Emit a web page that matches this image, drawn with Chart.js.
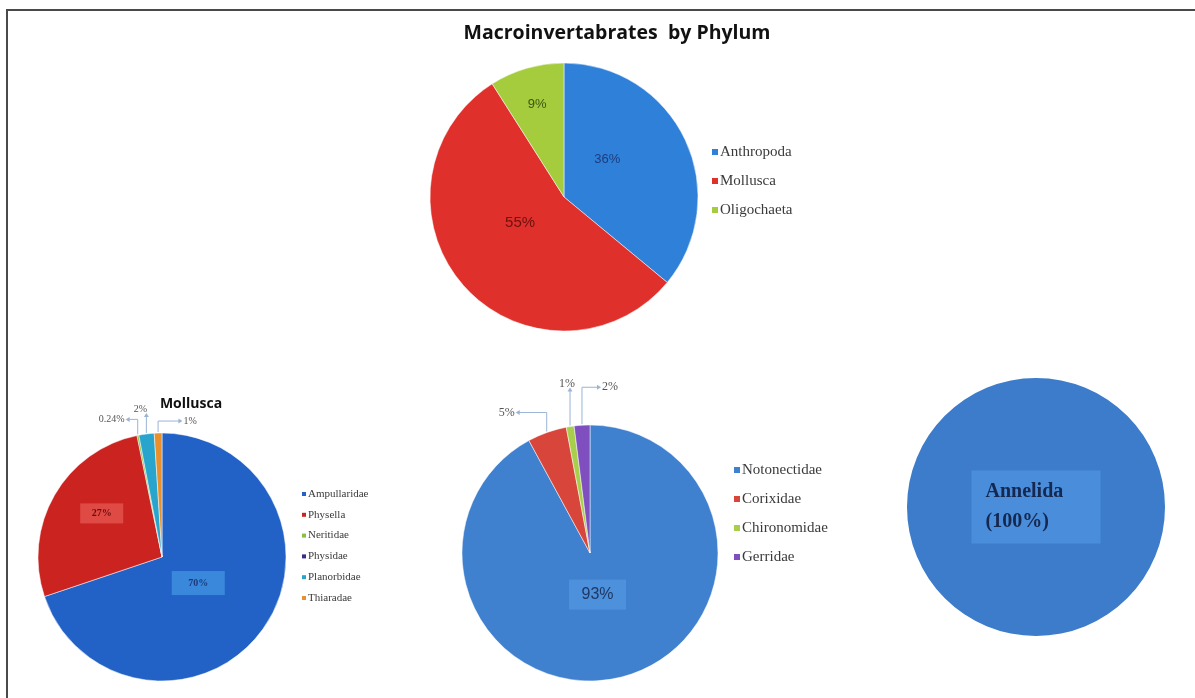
<!DOCTYPE html>
<html>
<head>
<meta charset="utf-8">
<script src="https://cdn.jsdelivr.net/npm/chart.js@4"></script>
<style>
  html, body { margin: 0; padding: 0; background: #fff; }
  #wrap { position: relative; width: 1195px; height: 698px; overflow: hidden; }
  #frame { position: absolute; left: 6px; top: 9px; width: 1200px; height: 700px;
           border-top: 2px solid #4a4a4a; border-left: 2px solid #4a4a4a; }
  canvas { position: absolute; left: 0; top: 0; }
</style>
</head>
<body>
<div id="wrap">
  <div id="frame"></div>
  <canvas id="phylumChart" width="1195" height="698"></canvas>
  <canvas id="molluscaChart" width="1195" height="698"></canvas>
  <canvas id="arthropodChart" width="1195" height="698"></canvas>
  <canvas id="annelidaChart" width="1195" height="698"></canvas>
</div>
<script>
// data
const phylumLabels = ['Anthropoda', 'Mollusca', 'Oligochaeta'];
const phylumValues = [36, 55, 9];

const molluscaLabels = ['Ampullaridae', 'Physella', 'Neritidae', 'Physidae', 'Planorbidae', 'Thiaradae'];
const molluscaValues = [70, 27, 0.24, 0, 2, 1];

const arthropodLabels = ['Notonectidae', 'Corixidae', 'Chironomidae', 'Gerridae'];
const arthropodValues = [93, 5, 1, 2];

const annelidaLabels = ['Annelida'];
const annelidaValues = [100];

const W = 1195, H = 698;

// draws the title, the legend and the slice labels of one pie
function piePlugin(spec) {
    return {
        id: 'pieExtras',
        afterDatasetsDraw(chart) {
            const ctx = chart.ctx;
            const ds = chart.data.datasets[0];
            const arcs = chart.getDatasetMeta(0).data;
            ctx.save();

            if (spec.title) {
                ctx.font = spec.title.font;
                ctx.fillStyle = '#111';
                ctx.textAlign = 'center';
                ctx.textBaseline = 'middle';
                ctx.fillText(spec.title.text, spec.title.x, spec.title.y);
            }

            if (spec.legend) {
                const lg = spec.legend;
                ctx.font = lg.font;
                ctx.textAlign = 'left';
                ctx.textBaseline = 'middle';
                chart.data.labels.forEach((lab, i) => {
                    const y = lg.y + i * lg.gap;
                    ctx.fillStyle = ds.backgroundColor[i];
                    ctx.fillRect(lg.x, y - lg.box / 2, lg.box, lg.box);
                    ctx.fillStyle = '#3a3a3a';
                    ctx.fillText(lab, lg.x + lg.box + 2, y);
                });
            }

            (spec.inside || []).forEach(it => {
                const a = arcs[it.index];
                const mid = (a.startAngle + a.endAngle) / 2 + (it.turn || 0) * Math.PI / 180;
                const rr = a.outerRadius * it.at;
                const x = a.x + Math.cos(mid) * rr;
                const y = a.y + Math.sin(mid) * rr;
                const lines = it.text ? it.text : [ds.data[it.index] + '%'];
                ctx.font = it.font;
                ctx.textBaseline = 'middle';
                if (it.box) {
                    ctx.fillStyle = it.box;
                    ctx.fillRect(x - it.bw / 2, y - it.bh / 2, it.bw, it.bh);
                }
                ctx.fillStyle = it.color;
                if (lines.length > 1) {
                    ctx.textAlign = 'left';
                    lines.forEach((t, k) => {
                        ctx.fillText(t, x - it.bw / 2 + 14, y + (k - (lines.length - 1) / 2) * it.lh);
                    });
                } else {
                    ctx.textAlign = 'center';
                    ctx.fillText(lines[0], x, y);
                }
            });

            (spec.outside || []).forEach(it => {
                const a = arcs[it.index];
                const mid = (a.startAngle + a.endAngle) / 2;
                const px = a.x + Math.cos(mid) * (a.outerRadius + 1);
                const py = a.y + Math.sin(mid) * (a.outerRadius + 1);
                const lx = px + it.dx, ly = py + it.dy;
                const txt = ds.data[it.index] + '%';
                ctx.font = spec.outsideFont;
                ctx.fillStyle = '#555';
                ctx.textAlign = 'center';
                ctx.textBaseline = 'middle';
                ctx.fillText(txt, lx, ly);
                const tw = ctx.measureText(txt).width;

                ctx.strokeStyle = '#9ab4d6';
                ctx.fillStyle = '#9ab4d6';
                ctx.lineWidth = 1;
                ctx.beginPath();
                let ex, ey, dir;
                if (Math.abs(it.dx) < 8) {
                    ex = px; ey = ly + 7; dir = 'up';
                    ctx.moveTo(px, py); ctx.lineTo(ex, ey);
                } else {
                    ey = ly;
                    ex = it.dx < 0 ? lx + tw / 2 + 4 : lx - tw / 2 - 4;
                    dir = it.dx < 0 ? 'left' : 'right';
                    ctx.moveTo(px, py); ctx.lineTo(px, ey); ctx.lineTo(ex, ey);
                }
                ctx.stroke();
                // small arrow head
                ctx.beginPath();
                if (dir === 'up') {
                    ctx.moveTo(ex, ey - 3); ctx.lineTo(ex - 2.5, ey + 1); ctx.lineTo(ex + 2.5, ey + 1);
                } else if (dir === 'left') {
                    ctx.moveTo(ex - 3, ey); ctx.lineTo(ex + 1, ey - 2.5); ctx.lineTo(ex + 1, ey + 2.5);
                } else {
                    ctx.moveTo(ex + 3, ey); ctx.lineTo(ex - 1, ey - 2.5); ctx.lineTo(ex - 1, ey + 2.5);
                }
                ctx.fill();
            });

            ctx.restore();
        }
    };
}

function makePie(id, labels, values, colors, cx, cy, r, border, spec) {
    const ctx = document.getElementById(id).getContext('2d');
    return new Chart(ctx, {
        type: 'pie',
        data: {
            labels: labels,
            datasets: [{
                data: values,
                backgroundColor: colors,
                borderColor: '#ffffff',
                borderWidth: border
            }]
        },
        options: {
            responsive: false,
            animation: false,
            radius: r,
            layout: {
                padding: { left: cx - r, top: cy - r, right: W - cx - r, bottom: H - cy - r }
            },
            plugins: {
                legend: { display: false },
                tooltip: { enabled: false }
            }
        },
        plugins: [piePlugin(spec)]
    });
}

makePie('phylumChart', phylumLabels, phylumValues,
    ['#2f80d8', '#e0302b', '#a5cc3c'], 564, 197, 134, 0.5, {
        title: { text: 'Macroinvertabrates  by Phylum', x: 617, y: 33, font: 'bold 19.5px "Open Sans", "Liberation Sans", sans-serif' },
        legend: { x: 712, y: 152, gap: 29, box: 6, font: '15px "Liberation Serif", serif' },
        inside: [
            { index: 0, at: 0.43, turn: -16, font: '13px "Liberation Sans", sans-serif', color: '#1d3c80' },
            { index: 1, at: 0.38, turn: 11, font: '15px "Liberation Sans", sans-serif', color: '#6e1010' },
            { index: 2, at: 0.72, font: '13px "Liberation Sans", sans-serif', color: '#3a5512' }
        ]
    });

makePie('molluscaChart', molluscaLabels, molluscaValues,
    ['#2262c6', '#cb2320', '#8bbf3f', '#3d2a8a', '#29a5cd', '#e8902c'], 162, 557, 124, 0.5, {
        title: { text: 'Mollusca', x: 191, y: 404, font: 'bold 14px "Open Sans", "Liberation Sans", sans-serif' },
        legend: { x: 302, y: 494, gap: 20.8, box: 4, font: '11px "Liberation Serif", serif' },
        inside: [
            { index: 0, at: 0.36, font: 'bold 10px "Liberation Serif", serif', color: '#1c3a7a', box: '#3a88dc', bw: 53, bh: 24 },
            { index: 1, at: 0.6, turn: 6, font: 'bold 10px "Liberation Serif", serif', color: '#6a0c0c', box: '#e04a45', bw: 43, bh: 20 }
        ],
        outsideFont: '10px "Liberation Serif", serif',
        outside: [
            { index: 2, dx: -26, dy: -15 },
            { index: 4, dx: -6, dy: -24 },
            { index: 5, dx: 32, dy: -11 }
        ]
    });

makePie('arthropodChart', arthropodLabels, arthropodValues,
    ['#3f80cf', '#d8463b', '#a8cf4c', '#7f4fbf'], 590, 553, 128, 0.5, {
        legend: { x: 734, y: 470, gap: 29, box: 6, font: '15px "Liberation Serif", serif' },
        inside: [
            { index: 0, at: 0.33, turn: 4, font: '16px "Liberation Sans", sans-serif', color: '#1f3864', box: '#4d90dc', bw: 57, bh: 30 }
        ],
        outsideFont: '12px "Liberation Serif", serif',
        outside: [
            { index: 1, dx: -40, dy: -19 },
            { index: 2, dx: -3, dy: -42 },
            { index: 3, dx: 28, dy: -37 }
        ]
    });

makePie('annelidaChart', annelidaLabels, annelidaValues,
    ['#3d7ccb'], 1036, 507, 129, 0, {
        inside: [
            { index: 0, at: 0, text: ['Annelida', '(100%)'], font: 'bold 20px "Liberation Serif", serif', color: '#15284f', box: '#4a8ddb', bw: 129, bh: 73, lh: 30 }
        ]
    });
</script>
</body>
</html>
